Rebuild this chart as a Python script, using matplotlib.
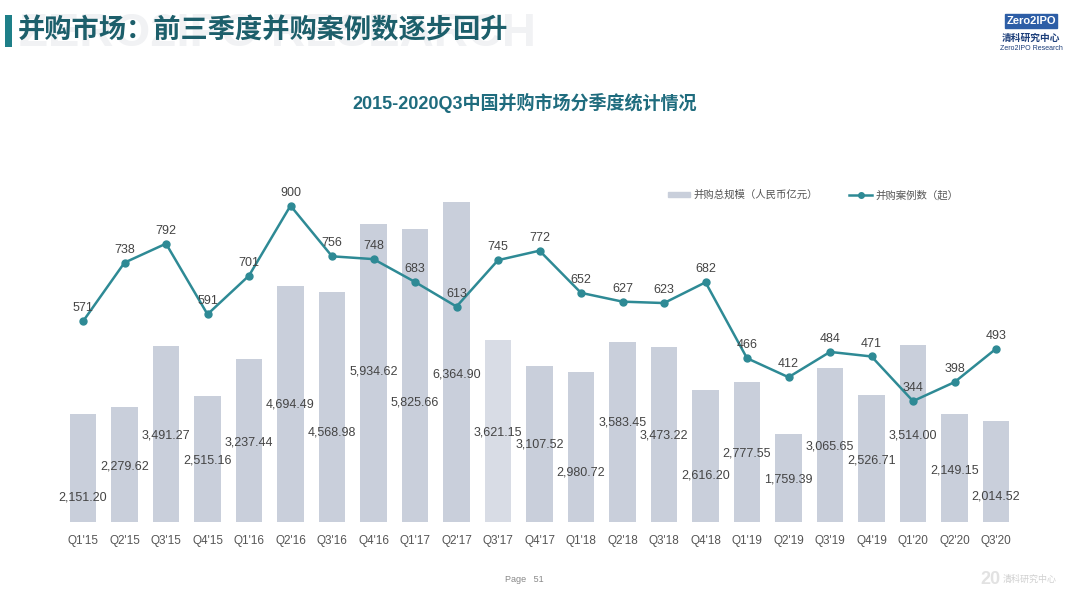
import matplotlib
matplotlib.use("Agg")
import matplotlib.pyplot as plt
from matplotlib.lines import Line2D
from matplotlib.patches import Patch, Rectangle

plt.rcParams['font.family'] = ['Liberation Sans', 'Noto Sans CJK SC', 'DejaVu Sans']

quarters = ["Q1'15", "Q2'15", "Q3'15", "Q4'15", "Q1'16", "Q2'16", "Q3'16", "Q4'16",
            "Q1'17", "Q2'17", "Q3'17", "Q4'17", "Q1'18", "Q2'18", "Q3'18", "Q4'18",
            "Q1'19", "Q2'19", "Q3'19", "Q4'19", "Q1'20", "Q2'20", "Q3'20"]
scale = [2151.20, 2279.62, 3491.27, 2515.16, 3237.44, 4694.49, 4568.98, 5934.62,
         5825.66, 6364.90, 3621.15, 3107.52, 2980.72, 3583.45, 3473.22, 2616.20,
         2777.55, 1759.39, 3065.65, 2526.71, 3514.00, 2149.15, 2014.52]
cases = [571, 738, 792, 591, 701, 900, 756, 748, 683, 613, 745, 772,
         652, 627, 623, 682, 466, 412, 484, 471, 344, 398, 493]

# where the bar value labels sit (in bar-axis units), as in the original slide
label_pos = [497, 1114, 1711, 1233, 1591, 2327, 1790, 2984, 2367, 2924, 1790, 1532,
             975, 1969, 1711, 935, 1372, 855, 1492, 1233, 1730, 1034, 517]

bar_color = '#C9CFDB'
line_color = '#2E8A95'
txt_color = '#444444'

fig = plt.figure(figsize=(10.8, 6.08), dpi=100)

# faint watermark behind the slide title
fig.text(0.018, 1 - 46 / 608, 'ZERO2IPO RESEARCH', fontsize=34, fontweight='bold',
         color='#F1F2F4', ha='left', va='baseline', zorder=0)

# slide title with the teal marker on its left
fig.add_artist(Rectangle((5 / 1080, 1 - 47 / 608), 7 / 1080, 32 / 608,
                         transform=fig.transFigure, color='#1E7F88', lw=0))
fig.text(18 / 1080, 1 - 31 / 608, '并购市场：前三季度并购案例数逐步回升', fontsize=19.6,
         fontweight='bold', color='#1D5F6B', ha='left', va='center', zorder=2)

# logo top right
fig.text(1031 / 1080, 1 - 21 / 608, 'Zero2IPO', fontsize=8, fontweight='bold', color='white',
         ha='center', va='center',
         bbox=dict(boxstyle='square,pad=0.15', fc='#2D5EA6', ec='#2D5EA6'))
fig.text(1031 / 1080, 1 - 38 / 608, '清科研究中心', fontsize=7, fontweight='bold',
         color='#1D3F7A', ha='center', va='center')
fig.text(1031 / 1080, 1 - 48 / 608, 'Zero2IPO Research', fontsize=5, color='#1D3F7A',
         ha='center', va='center')

# chart title
fig.text(525 / 1080, 1 - 103 / 608, '2015-2020Q3中国并购市场分季度统计情况', fontsize=13,
         fontweight='bold', color='#1F6C7E', ha='center', va='center')

ax = fig.add_axes([0.0538, 0.1414, 0.8915, 0.5625])
x = range(len(quarters))
colors = [bar_color] * len(quarters)
colors[10] = '#D8DCE5'
ax.bar(x, scale, width=0.63, color=colors, zorder=1)
ax.set_xlim(-0.6, len(quarters) - 0.4)
ax.set_ylim(0, 6800)
ax.set_yticks([])
ax.set_xticks(list(x))
ax.set_xticklabels(quarters, fontsize=8.5, color='#555555')
ax.tick_params(axis='x', length=0, pad=9)
for s in ax.spines.values():
    s.set_visible(False)

for i, v in enumerate(scale):
    ax.text(i, label_pos[i], f'{v:,.2f}', ha='center', va='center', fontsize=9,
            color=txt_color, zorder=5)

ax2 = ax.twinx()
ax2.plot(list(x), cases, color=line_color, lw=1.8, marker='o', markersize=5, zorder=3)
ax2.set_ylim(0, 973)
ax2.set_yticks([])
for s in ax2.spines.values():
    s.set_visible(False)
for i, v in enumerate(cases):
    ax2.annotate(str(v), (i, v), xytext=(0, 5), textcoords='offset points',
                 ha='center', va='bottom', fontsize=9, color=txt_color)

handles = [Patch(color=bar_color),
           Line2D([0], [0], color=line_color, lw=1.8, marker='o', markersize=4)]
leg = ax2.legend(handles, ['并购总规模（人民币亿元）', '并购案例数（起）'], ncol=2,
                 loc='center', bbox_to_anchor=(813 / 1080, 1 - 195 / 608),
                 bbox_transform=fig.transFigure, frameon=False, fontsize=7.5,
                 handlelength=2.2, handleheight=0.5, columnspacing=3.0, handletextpad=0.3)
for t in leg.get_texts():
    t.set_color('#555555')

# footer
fig.text(505 / 1080, 1 - 579 / 608, 'Page   51', fontsize=6.5, color='#888888',
         ha='left', va='center')
fig.text(990 / 1080, 1 - 579 / 608, '20', fontsize=13, fontweight='bold', color='#E2E2E2',
         ha='center', va='center')
fig.text(1030 / 1080, 1 - 579 / 608, '清科研究中心', fontsize=6.5, color='#D0D0D0',
         ha='center', va='center')

fig.savefig('out.png', dpi=100)
